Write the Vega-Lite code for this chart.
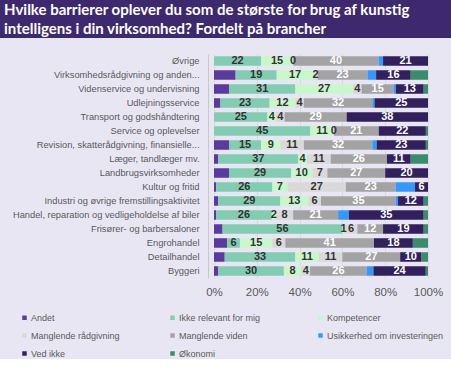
{
  "$schema": "https://vega.github.io/schema/vega-lite/v6.json",
  "background": "#e9e6f4",
  "padding": 0,
  "spacing": 16,
  "config": {"view": {"stroke": null}, "font": "Liberation Sans"},
  "datasets": {
    "title": [
      {"line": 1, "text": "Hvilke barrierer oplever du som de største for brug af kunstig"},
      {"line": 2, "text": "intelligens i din virksomhed? Fordelt på brancher"}
    ],
    "bars": [
      {"branch": "Øvrige", "cat": "Andet", "value": 0},
      {"branch": "Øvrige", "cat": "Ikke relevant for mig", "value": 22},
      {"branch": "Øvrige", "cat": "Kompetencer", "value": 15},
      {"branch": "Øvrige", "cat": "Manglende rådgivning", "value": 0},
      {"branch": "Øvrige", "cat": "Manglende viden", "value": 40},
      {"branch": "Øvrige", "cat": "Usikkerhed om investeringen", "value": 2},
      {"branch": "Øvrige", "cat": "Ved ikke", "value": 21},
      {"branch": "Øvrige", "cat": "Økonomi", "value": 0},
      {"branch": "Virksomhedsrådgivning og anden...", "cat": "Andet", "value": 10},
      {"branch": "Virksomhedsrådgivning og anden...", "cat": "Ikke relevant for mig", "value": 19},
      {"branch": "Virksomhedsrådgivning og anden...", "cat": "Kompetencer", "value": 17},
      {"branch": "Virksomhedsrådgivning og anden...", "cat": "Manglende rådgivning", "value": 2},
      {"branch": "Virksomhedsrådgivning og anden...", "cat": "Manglende viden", "value": 23},
      {"branch": "Virksomhedsrådgivning og anden...", "cat": "Usikkerhed om investeringen", "value": 4},
      {"branch": "Virksomhedsrådgivning og anden...", "cat": "Ved ikke", "value": 16},
      {"branch": "Virksomhedsrådgivning og anden...", "cat": "Økonomi", "value": 8},
      {"branch": "Videnservice og undervisning", "cat": "Andet", "value": 7},
      {"branch": "Videnservice og undervisning", "cat": "Ikke relevant for mig", "value": 31},
      {"branch": "Videnservice og undervisning", "cat": "Kompetencer", "value": 27},
      {"branch": "Videnservice og undervisning", "cat": "Manglende rådgivning", "value": 4},
      {"branch": "Videnservice og undervisning", "cat": "Manglende viden", "value": 15},
      {"branch": "Videnservice og undervisning", "cat": "Usikkerhed om investeringen", "value": 1},
      {"branch": "Videnservice og undervisning", "cat": "Ved ikke", "value": 13},
      {"branch": "Videnservice og undervisning", "cat": "Økonomi", "value": 2},
      {"branch": "Udlejningsservice", "cat": "Andet", "value": 3},
      {"branch": "Udlejningsservice", "cat": "Ikke relevant for mig", "value": 23},
      {"branch": "Udlejningsservice", "cat": "Kompetencer", "value": 12},
      {"branch": "Udlejningsservice", "cat": "Manglende rådgivning", "value": 4},
      {"branch": "Udlejningsservice", "cat": "Manglende viden", "value": 32},
      {"branch": "Udlejningsservice", "cat": "Usikkerhed om investeringen", "value": 1},
      {"branch": "Udlejningsservice", "cat": "Ved ikke", "value": 25},
      {"branch": "Udlejningsservice", "cat": "Økonomi", "value": 0},
      {"branch": "Transport og godshåndtering", "cat": "Andet", "value": 0},
      {"branch": "Transport og godshåndtering", "cat": "Ikke relevant for mig", "value": 25},
      {"branch": "Transport og godshåndtering", "cat": "Kompetencer", "value": 4},
      {"branch": "Transport og godshåndtering", "cat": "Manglende rådgivning", "value": 4},
      {"branch": "Transport og godshåndtering", "cat": "Manglende viden", "value": 29},
      {"branch": "Transport og godshåndtering", "cat": "Usikkerhed om investeringen", "value": 0},
      {"branch": "Transport og godshåndtering", "cat": "Ved ikke", "value": 38},
      {"branch": "Transport og godshåndtering", "cat": "Økonomi", "value": 0},
      {"branch": "Service og oplevelser", "cat": "Andet", "value": 0},
      {"branch": "Service og oplevelser", "cat": "Ikke relevant for mig", "value": 45},
      {"branch": "Service og oplevelser", "cat": "Kompetencer", "value": 11},
      {"branch": "Service og oplevelser", "cat": "Manglende rådgivning", "value": 0},
      {"branch": "Service og oplevelser", "cat": "Manglende viden", "value": 21},
      {"branch": "Service og oplevelser", "cat": "Usikkerhed om investeringen", "value": 0},
      {"branch": "Service og oplevelser", "cat": "Ved ikke", "value": 22},
      {"branch": "Service og oplevelser", "cat": "Økonomi", "value": 1},
      {"branch": "Revision, skatterådgivning, finansielle...", "cat": "Andet", "value": 7},
      {"branch": "Revision, skatterådgivning, finansielle...", "cat": "Ikke relevant for mig", "value": 15},
      {"branch": "Revision, skatterådgivning, finansielle...", "cat": "Kompetencer", "value": 9},
      {"branch": "Revision, skatterådgivning, finansielle...", "cat": "Manglende rådgivning", "value": 11},
      {"branch": "Revision, skatterådgivning, finansielle...", "cat": "Manglende viden", "value": 32},
      {"branch": "Revision, skatterådgivning, finansielle...", "cat": "Usikkerhed om investeringen", "value": 2},
      {"branch": "Revision, skatterådgivning, finansielle...", "cat": "Ved ikke", "value": 23},
      {"branch": "Revision, skatterådgivning, finansielle...", "cat": "Økonomi", "value": 1},
      {"branch": "Læger, tandlæger mv.", "cat": "Andet", "value": 2},
      {"branch": "Læger, tandlæger mv.", "cat": "Ikke relevant for mig", "value": 37},
      {"branch": "Læger, tandlæger mv.", "cat": "Kompetencer", "value": 4},
      {"branch": "Læger, tandlæger mv.", "cat": "Manglende rådgivning", "value": 11},
      {"branch": "Læger, tandlæger mv.", "cat": "Manglende viden", "value": 26},
      {"branch": "Læger, tandlæger mv.", "cat": "Usikkerhed om investeringen", "value": 0},
      {"branch": "Læger, tandlæger mv.", "cat": "Ved ikke", "value": 11},
      {"branch": "Læger, tandlæger mv.", "cat": "Økonomi", "value": 8},
      {"branch": "Landbrugsvirksomheder", "cat": "Andet", "value": 7},
      {"branch": "Landbrugsvirksomheder", "cat": "Ikke relevant for mig", "value": 29},
      {"branch": "Landbrugsvirksomheder", "cat": "Kompetencer", "value": 10},
      {"branch": "Landbrugsvirksomheder", "cat": "Manglende rådgivning", "value": 7},
      {"branch": "Landbrugsvirksomheder", "cat": "Manglende viden", "value": 27},
      {"branch": "Landbrugsvirksomheder", "cat": "Usikkerhed om investeringen", "value": 0},
      {"branch": "Landbrugsvirksomheder", "cat": "Ved ikke", "value": 20},
      {"branch": "Landbrugsvirksomheder", "cat": "Økonomi", "value": 0},
      {"branch": "Kultur og fritid", "cat": "Andet", "value": 1},
      {"branch": "Kultur og fritid", "cat": "Ikke relevant for mig", "value": 26},
      {"branch": "Kultur og fritid", "cat": "Kompetencer", "value": 7},
      {"branch": "Kultur og fritid", "cat": "Manglende rådgivning", "value": 27},
      {"branch": "Kultur og fritid", "cat": "Manglende viden", "value": 23},
      {"branch": "Kultur og fritid", "cat": "Usikkerhed om investeringen", "value": 9},
      {"branch": "Kultur og fritid", "cat": "Ved ikke", "value": 6},
      {"branch": "Kultur og fritid", "cat": "Økonomi", "value": 0},
      {"branch": "Industri og øvrige fremstillingsaktivitet", "cat": "Andet", "value": 2},
      {"branch": "Industri og øvrige fremstillingsaktivitet", "cat": "Ikke relevant for mig", "value": 29},
      {"branch": "Industri og øvrige fremstillingsaktivitet", "cat": "Kompetencer", "value": 13},
      {"branch": "Industri og øvrige fremstillingsaktivitet", "cat": "Manglende rådgivning", "value": 6},
      {"branch": "Industri og øvrige fremstillingsaktivitet", "cat": "Manglende viden", "value": 35},
      {"branch": "Industri og øvrige fremstillingsaktivitet", "cat": "Usikkerhed om investeringen", "value": 1},
      {"branch": "Industri og øvrige fremstillingsaktivitet", "cat": "Ved ikke", "value": 12},
      {"branch": "Industri og øvrige fremstillingsaktivitet", "cat": "Økonomi", "value": 2},
      {"branch": "Handel, reparation og vedligeholdelse af biler", "cat": "Andet", "value": 1},
      {"branch": "Handel, reparation og vedligeholdelse af biler", "cat": "Ikke relevant for mig", "value": 26},
      {"branch": "Handel, reparation og vedligeholdelse af biler", "cat": "Kompetencer", "value": 2},
      {"branch": "Handel, reparation og vedligeholdelse af biler", "cat": "Manglende rådgivning", "value": 8},
      {"branch": "Handel, reparation og vedligeholdelse af biler", "cat": "Manglende viden", "value": 21},
      {"branch": "Handel, reparation og vedligeholdelse af biler", "cat": "Usikkerhed om investeringen", "value": 5},
      {"branch": "Handel, reparation og vedligeholdelse af biler", "cat": "Ved ikke", "value": 35},
      {"branch": "Handel, reparation og vedligeholdelse af biler", "cat": "Økonomi", "value": 2},
      {"branch": "Frisører- og barbersaloner", "cat": "Andet", "value": 4},
      {"branch": "Frisører- og barbersaloner", "cat": "Ikke relevant for mig", "value": 56},
      {"branch": "Frisører- og barbersaloner", "cat": "Kompetencer", "value": 1},
      {"branch": "Frisører- og barbersaloner", "cat": "Manglende rådgivning", "value": 6},
      {"branch": "Frisører- og barbersaloner", "cat": "Manglende viden", "value": 12},
      {"branch": "Frisører- og barbersaloner", "cat": "Usikkerhed om investeringen", "value": 0},
      {"branch": "Frisører- og barbersaloner", "cat": "Ved ikke", "value": 19},
      {"branch": "Frisører- og barbersaloner", "cat": "Økonomi", "value": 2},
      {"branch": "Engrohandel", "cat": "Andet", "value": 6},
      {"branch": "Engrohandel", "cat": "Ikke relevant for mig", "value": 6},
      {"branch": "Engrohandel", "cat": "Kompetencer", "value": 15},
      {"branch": "Engrohandel", "cat": "Manglende rådgivning", "value": 6},
      {"branch": "Engrohandel", "cat": "Manglende viden", "value": 41},
      {"branch": "Engrohandel", "cat": "Usikkerhed om investeringen", "value": 0},
      {"branch": "Engrohandel", "cat": "Ved ikke", "value": 18},
      {"branch": "Engrohandel", "cat": "Økonomi", "value": 7},
      {"branch": "Detailhandel", "cat": "Andet", "value": 5},
      {"branch": "Detailhandel", "cat": "Ikke relevant for mig", "value": 33},
      {"branch": "Detailhandel", "cat": "Kompetencer", "value": 11},
      {"branch": "Detailhandel", "cat": "Manglende rådgivning", "value": 11},
      {"branch": "Detailhandel", "cat": "Manglende viden", "value": 27},
      {"branch": "Detailhandel", "cat": "Usikkerhed om investeringen", "value": 0},
      {"branch": "Detailhandel", "cat": "Ved ikke", "value": 10},
      {"branch": "Detailhandel", "cat": "Økonomi", "value": 3},
      {"branch": "Byggeri", "cat": "Andet", "value": 2},
      {"branch": "Byggeri", "cat": "Ikke relevant for mig", "value": 30},
      {"branch": "Byggeri", "cat": "Kompetencer", "value": 8},
      {"branch": "Byggeri", "cat": "Manglende rådgivning", "value": 4},
      {"branch": "Byggeri", "cat": "Manglende viden", "value": 26},
      {"branch": "Byggeri", "cat": "Usikkerhed om investeringen", "value": 3},
      {"branch": "Byggeri", "cat": "Ved ikke", "value": 24},
      {"branch": "Byggeri", "cat": "Økonomi", "value": 1}
    ]
  },
  "vconcat": [
    {
      "width": 451,
      "height": 38,
      "view": {"fill": "#3d2a6e", "stroke": null},
      "data": {"name": "title"},
      "mark": {"type": "text", "align": "left", "baseline": "middle", "font": "Lato", "fontSize": 15, "fontWeight": "bold", "color": "white"},
      "encoding": {
        "x": {"value": 4},
        "y": {"field": "line", "type": "ordinal", "axis": null},
        "text": {"field": "text"}
      }
    },
    {
      "width": 428,
      "height": 224,
      "data": {"name": "bars"},
      "transform": [
        {"stack": "value", "groupby": ["branch"], "sort": [{"field": "cat", "order": "ascending"}], "offset": "normalize", "as": ["x0", "x1"]}
      ],
      "encoding": {
        "y": {
          "field": "branch", "type": "nominal", "sort": null,
          "scale": {"paddingInner": 0.32, "paddingOuter": 0.16},
          "axis": {"title": null, "ticks": false, "offset": -208, "labelFontSize": 9.3, "labelColor": "#595959", "labelPadding": 9, "domainColor": "#c8c8c8", "labelLimit": 300}
        }
      },
      "layer": [
        {
          "mark": {"type": "bar"},
          "encoding": {
            "x": {"field": "x0", "type": "quantitative", "scale": {"domain": [-0.9454545, 1]},
              "axis": {"title": null, "format": "%", "values": [0, 0.2, 0.4, 0.6, 0.8, 1], "grid": true, "gridColor": "#d9d9d9", "domain": false, "ticks": false, "labelFlush": false, "labelFontSize": 11.5, "labelColor": "#595959", "labelPadding": 8}},
            "x2": {"field": "x1"},
            "color": {
              "field": "cat", "type": "nominal",
              "scale": {
                "domain": ["Andet", "Ikke relevant for mig", "Kompetencer", "Manglende rådgivning", "Manglende viden", "Usikkerhed om investeringen", "Ved ikke", "Økonomi"],
                "range": ["#5b3a9e", "#82cdb2", "#c9f7cc", "#d9d9d9", "#a3a3a3", "#3399ff", "#31205c", "#3a8d6c"]
              },
              "legend": {"title": null, "orient": "none", "legendX": 20, "legendY": 313, "direction": "horizontal", "columns": 3, "symbolType": "square", "symbolSize": 20, "symbolStrokeWidth": 0, "labelFontSize": 9, "labelColor": "#595959", "columnPadding": 20, "rowPadding": 8, "gridAlign": "all", "padding": 0, "labelOffset": 2, "labelLimit": 200}
            }
          }
        },
        {
          "transform": [
            {"filter": {"field": "cat", "oneOf": ["Ikke relevant for mig", "Kompetencer", "Manglende rådgivning", "Manglende viden", "Ved ikke"]}},
            {"calculate": "(datum.x0 + datum.x1) / 2", "as": "mid"}
          ],
          "mark": {"type": "text", "fontSize": 11, "fontWeight": "bold", "baseline": "middle"},
          "encoding": {
            "x": {"field": "mid", "type": "quantitative"},
            "text": {"field": "value", "type": "quantitative"},
            "color": {"condition": {"test": "datum.cat === 'Manglende viden' || datum.cat === 'Ved ikke'", "value": "white"}, "value": "#333333"}
          }
        }
      ]
    }
  ]
}
